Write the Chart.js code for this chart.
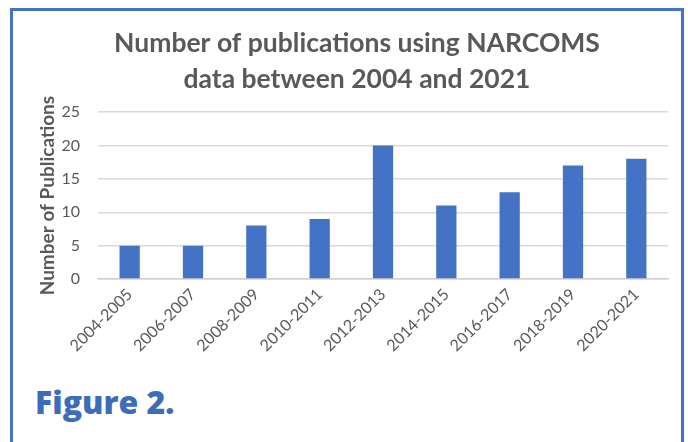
<!DOCTYPE html>
<html>
<head>
<meta charset="utf-8">
<script src="https://cdn.jsdelivr.net/npm/chart.js@4"></script>
<style>
  html, body { margin:0; padding:0; background:#fff; }
  body { width:688px; height:442px; position:relative; overflow:hidden; font-family: Lato, "Open Sans", sans-serif; }
  #frame { position:absolute; left:10px; top:8px; width:674px; height:460px; border:3px solid #4472C4; box-sizing:border-box; }
  #wrap { position:absolute; left:12px; top:11px; width:669px; height:360px; }
  #fig { position:absolute; left:35px; top:386px; font-family: "Open Sans", sans-serif; font-weight:800; font-size:32px; line-height:32px; color:#3E6DB8; white-space:nowrap; }
</style>
</head>
<body>
<div id="frame"></div>
<div id="wrap"><canvas id="c"></canvas></div>
<div id="fig">Figure 2.</div>
<script>
const categories = ["2004-2005","2006-2007","2008-2009","2010-2011","2012-2013","2014-2015","2016-2017","2018-2019","2020-2021"];
const publications = [5, 5, 8, 9, 20, 11, 13, 17, 18];
const titleLines = ["Number of publications using NARCOMS", "data between 2004 and 2021"];
const yAxisTitle = "Number of Publications";

const gray = "#595959";
new Chart(document.getElementById("c"), {
  type: "bar",
  data: {
    labels: categories,
    datasets: [{
      data: publications,
      backgroundColor: "#4472C4",
      barPercentage: 0.32,
      categoryPercentage: 1.0
    }]
  },
  options: {
    responsive: true,
    maintainAspectRatio: false,
    animation: false,
    layout: { padding: { left: 34, right: 13, top: 0, bottom: 0 } },
    plugins: {
      legend: { display: false },
      tooltip: { enabled: false },
      title: {
        display: true,
        text: titleLines,
        color: gray,
        font: { family: "Lato", size: 26.5, weight: "bold", lineHeight: 1.38 },
        padding: { top: 14, bottom: 14 }
      }
    },
    scales: {
      x: {
        grid: { display: false, drawTicks: false },
        border: { display: true, color: "#d0d0d0", width: 1.5 },
        ticks: { color: gray, font: { family: "Lato", size: 16 }, maxRotation: 45, minRotation: 45, padding: 6, autoSkip: false },
        afterFit: (s) => { s.height = 92; }
      },
      y: {
        min: 0, max: 25,
        ticks: { stepSize: 5, color: gray, font: { family: "Lato", size: 16 }, padding: 18 },
        grid: { color: "#d9d9d9", lineWidth: 1.5, drawTicks: false },
        border: { display: false },
        title: { display: true, text: yAxisTitle, color: gray, font: { family: "Lato", size: 19, weight: "bold", lineHeight: 1.2 }, padding: { top: -9.4, bottom: 0 } },
        afterFit: (s) => { s.width = 52; }
      }
    }
  }
});
</script>
</body>
</html>
